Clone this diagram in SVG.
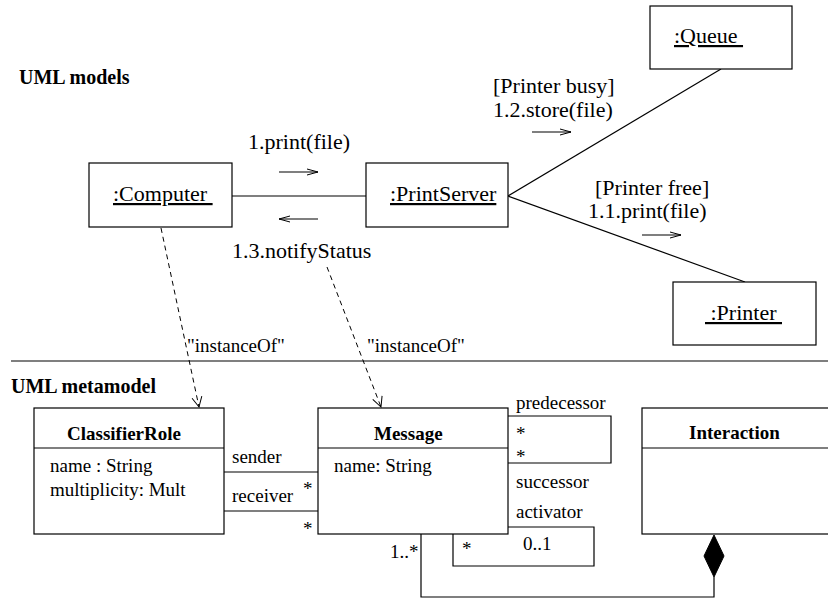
<svg xmlns="http://www.w3.org/2000/svg" width="828" height="598" viewBox="0 0 828 598">
<style>
  .t { font-family: "Liberation Serif", "Times New Roman", serif; fill: #000; }
  .up { font-size: 22px; }
  .lo { font-size: 19px; }
  .b { font-weight: bold; }
  .h { font-size: 20px; font-weight: bold; }
  .u { text-decoration: underline; }
  .box { fill: #fff; stroke: #000; stroke-width: 1.2; }
  .ln { fill: none; stroke: #000; stroke-width: 1.2; }
  .dash { fill: none; stroke: #000; stroke-width: 1; stroke-dasharray: 5 4; }
</style>
<defs>
  <marker id="open" markerWidth="12" markerHeight="12" refX="11" refY="6" orient="auto" markerUnits="userSpaceOnUse">
    <path d="M1,1 L11,6 L1,11" fill="none" stroke="#000" stroke-width="1"/>
  </marker>
  <marker id="small" markerWidth="12" markerHeight="8" refX="11" refY="4" orient="auto" markerUnits="userSpaceOnUse">
    <path d="M0,1 L11,4 L0,7" fill="none" stroke="#000" stroke-width="1"/>
  </marker>
</defs>

<text class="t h" x="19" y="84">UML models</text>
<text class="t h" x="11" y="393">UML metamodel</text>
<line class="ln" x1="11" y1="361" x2="828" y2="361"/>

<g id="connectors">
  <line class="ln" x1="232" y1="196" x2="366" y2="196"/>
  <line class="ln" x1="508" y1="196" x2="721" y2="69"/>
  <line class="ln" x1="508" y1="196" x2="745" y2="282"/>
  <line class="ln" x1="279" y1="172" x2="318" y2="172" marker-end="url(#small)"/>
  <line class="ln" x1="318" y1="219" x2="279" y2="219" marker-end="url(#small)"/>
  <line class="ln" x1="532" y1="132" x2="571" y2="132" marker-end="url(#small)"/>
  <line class="ln" x1="642" y1="235" x2="681" y2="235" marker-end="url(#small)"/>
  <line class="dash" x1="161" y1="228" x2="199" y2="407" marker-end="url(#open)"/>
  <line class="dash" x1="327" y1="267" x2="381" y2="407" marker-end="url(#open)"/>
  <line class="ln" x1="224" y1="472" x2="318" y2="472"/>
  <line class="ln" x1="224" y1="511" x2="318" y2="511"/>
  <path class="ln" d="M508,416 H611 V463 H508"/>
  <path class="ln" d="M508,527 H594 V566 H453 V534"/>
  <path class="ln" d="M421,534 V597 H714 V577"/>
  <path d="M714,535 L724,556 L714,577 L704,556 Z" fill="#000" stroke="#000" stroke-width="1"/>
  <text class="t up" x="248" y="149">1.print(file)</text>
  <text class="t up" x="232" y="258">1.3.notifyStatus</text>
  <text class="t up" x="493" y="93">[Printer busy]</text>
  <text class="t up" x="493" y="117">1.2.store(file)</text>
  <text class="t up" x="595" y="195">[Printer free]</text>
  <text class="t up" x="588" y="218">1.1.print(file)</text>
  <text class="t lo" x="187" y="352">"instanceOf"</text>
  <text class="t lo" x="367" y="352">"instanceOf"</text>
  <text class="t lo" x="232" y="463">sender</text>
  <text class="t lo" x="232" y="502">receiver</text>
  <text class="t lo" x="303" y="495">*</text>
  <text class="t lo" x="303" y="535">*</text>
  <text class="t lo" x="516" y="409">predecessor</text>
  <text class="t lo" x="516" y="440">*</text>
  <text class="t lo" x="516" y="463">*</text>
  <text class="t lo" x="516" y="488">successor</text>
  <text class="t lo" x="516" y="518">activator</text>
  <text class="t lo" x="462" y="555">*</text>
  <text class="t lo" x="523" y="550">0..1</text>
  <text class="t lo" x="390" y="558">1..*</text>
</g>

<g id="computer">
  <rect class="box" x="89" y="163" width="143" height="64"/>
  <text class="t up u" x="113" y="201" xml:space="preserve">:Computer </text>
</g>
<g id="printserver">
  <rect class="box" x="366" y="163" width="142" height="64"/>
  <text class="t up u" x="390" y="201" xml:space="preserve">:PrintServer</text>
</g>
<g id="queue">
  <rect class="box" x="650" y="6" width="142" height="63"/>
  <text class="t up u" x="674" y="43" xml:space="preserve">:Queue </text>
</g>
<g id="printer">
  <rect class="box" x="673" y="282" width="143" height="63"/>
  <text class="t up u" x="705" y="320" xml:space="preserve"> :Printer </text>
</g>

<g id="classifierrole">
  <rect class="box" x="34" y="408" width="190" height="126"/>
  <line class="ln" x1="34" y1="448" x2="224" y2="448"/>
  <text class="t lo b" x="67" y="440">ClassifierRole</text>
  <text class="t lo" x="50" y="472">name : String</text>
  <text class="t lo" x="50" y="496">multiplicity: Mult</text>
</g>
<g id="message">
  <rect class="box" x="318" y="408" width="190" height="126"/>
  <line class="ln" x1="318" y1="448" x2="508" y2="448"/>
  <text class="t lo b" x="374" y="440">Message</text>
  <text class="t lo" x="334" y="472">name: String</text>
</g>
<g id="interaction">
  <rect class="box" x="642" y="408" width="200" height="126"/>
  <line class="ln" x1="642" y1="448" x2="828" y2="448"/>
  <text class="t lo b" x="689" y="439">Interaction</text>
</g>
</svg>
